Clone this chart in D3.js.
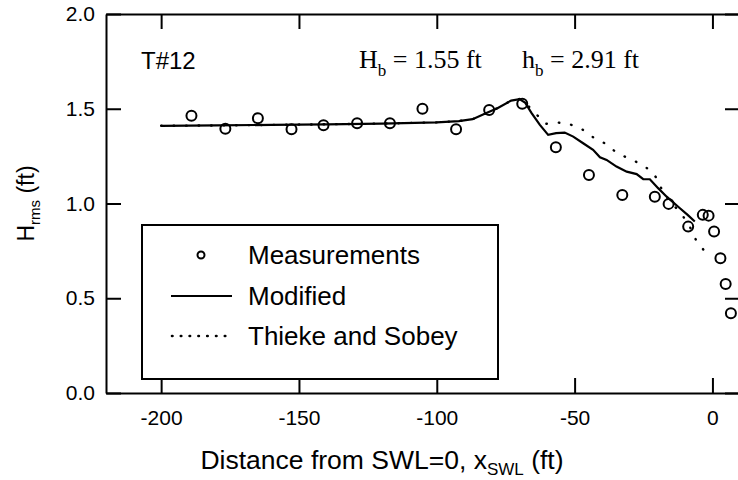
<!DOCTYPE html>
<html>
<head>
<meta charset="utf-8">
<script src="https://cdn.jsdelivr.net/npm/d3@7"></script>
<style>
  body { margin: 0; background: #fff; }
  svg { display: block; }
  text { font-family: "Liberation Sans", Arial, sans-serif; fill: #000; }
  .serif { font-family: "Liberation Serif", "Times New Roman", serif; }
</style>
</head>
<body>
<div id="chart"></div>
<script>
// measured points
const measX = [-189, -176.7, -164.9, -152.7, -141.1, -128.9, -117, -105.2, -93, -81, -69,
  -56.8, -44.8, -32.7, -20.9, -15.9, -8.8, -3.5, -1.4, 0.6, 2.9, 4.8, 6.7];
const measY = [1.463, 1.394, 1.450, 1.392, 1.413, 1.424, 1.424, 1.500, 1.392, 1.494, 1.526,
  1.297, 1.151, 1.045, 1.035, 0.998, 0.878, 0.940, 0.936, 0.852, 0.711, 0.575, 0.421];

// modified model (solid)
const modX = [-200, -180, -160, -140, -120, -100, -92, -87, -82, -78, -73, -70, -68, -65.6, -62.6,
  -59.6, -56.7, -53.6, -50.5, -46.9, -43.3, -40.8, -38.4, -34.8, -31.1, -27.5, -25.1, -22.7,
  -19.7, -16.6, -11.8, -9, -6.4];
const modY = [1.410, 1.412, 1.415, 1.418, 1.422, 1.428, 1.435, 1.445, 1.477, 1.503, 1.543, 1.551,
  1.533, 1.477, 1.415, 1.362, 1.371, 1.374, 1.353, 1.318, 1.283, 1.244, 1.230, 1.195, 1.168,
  1.155, 1.128, 1.128, 1.081, 1.036, 0.975, 0.940, 0.905];

// Thieke and Sobey (dotted)
const tsX = [-200, -180, -160, -140, -120, -100, -92, -87, -82, -78, -73, -70, -68, -64, -60.6,
  -56, -52, -47, -43.3, -39.1, -34.8, -30.6, -26.6, -22.7, -19.7, -17.9, -14, -11, -8.2, -6, -3];
const tsY = [1.410, 1.412, 1.415, 1.418, 1.422, 1.428, 1.435, 1.445, 1.477, 1.503, 1.543, 1.551,
  1.533, 1.473, 1.420, 1.427, 1.420, 1.389, 1.350, 1.318, 1.269, 1.239, 1.213, 1.177, 1.125,
  1.054, 0.990, 0.940, 0.878, 0.808, 0.751];

const xTicks = [-200, -150, -100, -50, 0];
const yTicks = [0, 0.5, 1.0, 1.5, 2.0];
const legendLabels = ['Measurements', 'Modified', 'Thieke and Sobey'];

const width = 738, height = 480;
const margin = { top: 14, right: -2, bottom: 87, left: 106 };

const svg = d3.select('#chart').append('svg')
  .attr('width', width)
  .attr('height', height);

const x = d3.scaleLinear().domain([-220, 10]).range([margin.left, width - margin.right]);
const y = d3.scaleLinear().domain([0, 2]).range([height - margin.bottom, margin.top]);

// axes, ticks point inward
const axisStyle = g => {
  g.select('.domain').attr('stroke-width', 2).attr('fill', 'none');
  g.selectAll('.tick line').attr('stroke-width', 2);
  g.selectAll('.tick text').attr('font-size', 21).attr('font-family', '"Liberation Sans", Arial, sans-serif');
};

// plain hyphen for negatives, like the original
svg.append('g')
  .attr('transform', `translate(0,${y(0)})`)
  .call(d3.axisBottom(x).tickValues(xTicks).tickFormat(d => String(d))
    .tickSize(-15).tickSizeOuter(0).tickPadding(17))
  .call(axisStyle);

svg.append('g')
  .attr('transform', `translate(0,${y(2)})`)
  .call(d3.axisTop(x).tickValues(xTicks).tickFormat('')
    .tickSize(-15).tickSizeOuter(0))
  .call(axisStyle);

svg.append('g')
  .attr('transform', `translate(${x(-220)},0)`)
  .call(d3.axisLeft(y).tickValues(yTicks).tickFormat(d3.format('.1f'))
    .tickSize(-15).tickSizeOuter(0).tickPadding(11))
  .call(axisStyle);

svg.append('g')
  .attr('transform', `translate(${x(10)},0)`)
  .call(d3.axisRight(y).tickValues(yTicks).tickFormat('')
    .tickSize(-15).tickSizeOuter(0))
  .call(axisStyle);

// curves
const line = d3.line().x(d => x(d[0])).y(d => y(d[1]));

svg.append('path')
  .datum(d3.zip(tsX, tsY))
  .attr('d', line)
  .attr('fill', 'none')
  .attr('stroke', '#000')
  .attr('stroke-width', 2.4)
  .attr('stroke-linecap', 'round')
  .attr('stroke-dasharray', '0.5,12');

svg.append('path')
  .datum(d3.zip(modX, modY))
  .attr('d', line)
  .attr('fill', 'none')
  .attr('stroke', '#000')
  .attr('stroke-width', 2.2);

svg.selectAll('circle.meas')
  .data(d3.zip(measX, measY))
  .enter()
  .append('circle')
  .attr('class', 'meas')
  .attr('cx', d => x(d[0]))
  .attr('cy', d => y(d[1]))
  .attr('r', 5)
  .attr('fill', 'none')
  .attr('stroke', '#000')
  .attr('stroke-width', 2);

// legend
const legend = svg.append('g');
legend.append('rect')
  .attr('x', 142).attr('y', 225)
  .attr('width', 356).attr('height', 154)
  .attr('fill', '#fff')
  .attr('stroke', '#000')
  .attr('stroke-width', 2);

const rowY = [255, 296, 336];
legend.append('circle')
  .attr('cx', 201).attr('cy', rowY[0])
  .attr('r', 3.5)
  .attr('fill', 'none').attr('stroke', '#000').attr('stroke-width', 2);
legend.append('line')
  .attr('x1', 171).attr('x2', 232).attr('y1', rowY[1]).attr('y2', rowY[1])
  .attr('stroke', '#000').attr('stroke-width', 2);
legend.append('line')
  .attr('x1', 172).attr('x2', 232).attr('y1', rowY[2]).attr('y2', rowY[2])
  .attr('stroke', '#000').attr('stroke-width', 2.6)
  .attr('stroke-linecap', 'round')
  .attr('stroke-dasharray', '0.5,8.3');

legend.selectAll('text')
  .data(legendLabels)
  .enter()
  .append('text')
  .attr('x', 248)
  .attr('y', (d, i) => rowY[i] + 9)
  .attr('font-size', 26)
  .text(d => d);

// annotations
svg.append('text')
  .attr('x', 141).attr('y', 69)
  .attr('font-size', 24)
  .text('T#12');

const ann = svg.append('text')
  .attr('class', 'serif')
  .attr('x', 359).attr('y', 68)
  .attr('font-size', 26);
ann.append('tspan').text('H');
ann.append('tspan').attr('font-size', 17).attr('dy', 8).text('b');
ann.append('tspan').attr('dy', -8).text(' = 1.55 ft');
ann.append('tspan').attr('x', 522).text('h');
ann.append('tspan').attr('font-size', 17).attr('dy', 8).text('b');
ann.append('tspan').attr('dy', -8).text(' = 2.91 ft');

// axis titles
const xt = svg.append('text')
  .attr('x', 382).attr('y', 469)
  .attr('text-anchor', 'middle')
  .attr('font-size', 26.5);
xt.append('tspan').text('Distance from SWL=0, x');
xt.append('tspan').attr('font-size', 17).attr('dy', 6).text('SWL');
xt.append('tspan').attr('dy', -6).text(' (ft)');

const yt = svg.append('text')
  .attr('transform', `translate(34,${y(1)}) rotate(-90)`)
  .attr('text-anchor', 'middle')
  .attr('font-size', 23);
yt.append('tspan').text('H');
yt.append('tspan').attr('font-size', 15).attr('dy', 6).text('rms');
yt.append('tspan').attr('dy', -6).text(' (ft)');
</script>
</body>
</html>
